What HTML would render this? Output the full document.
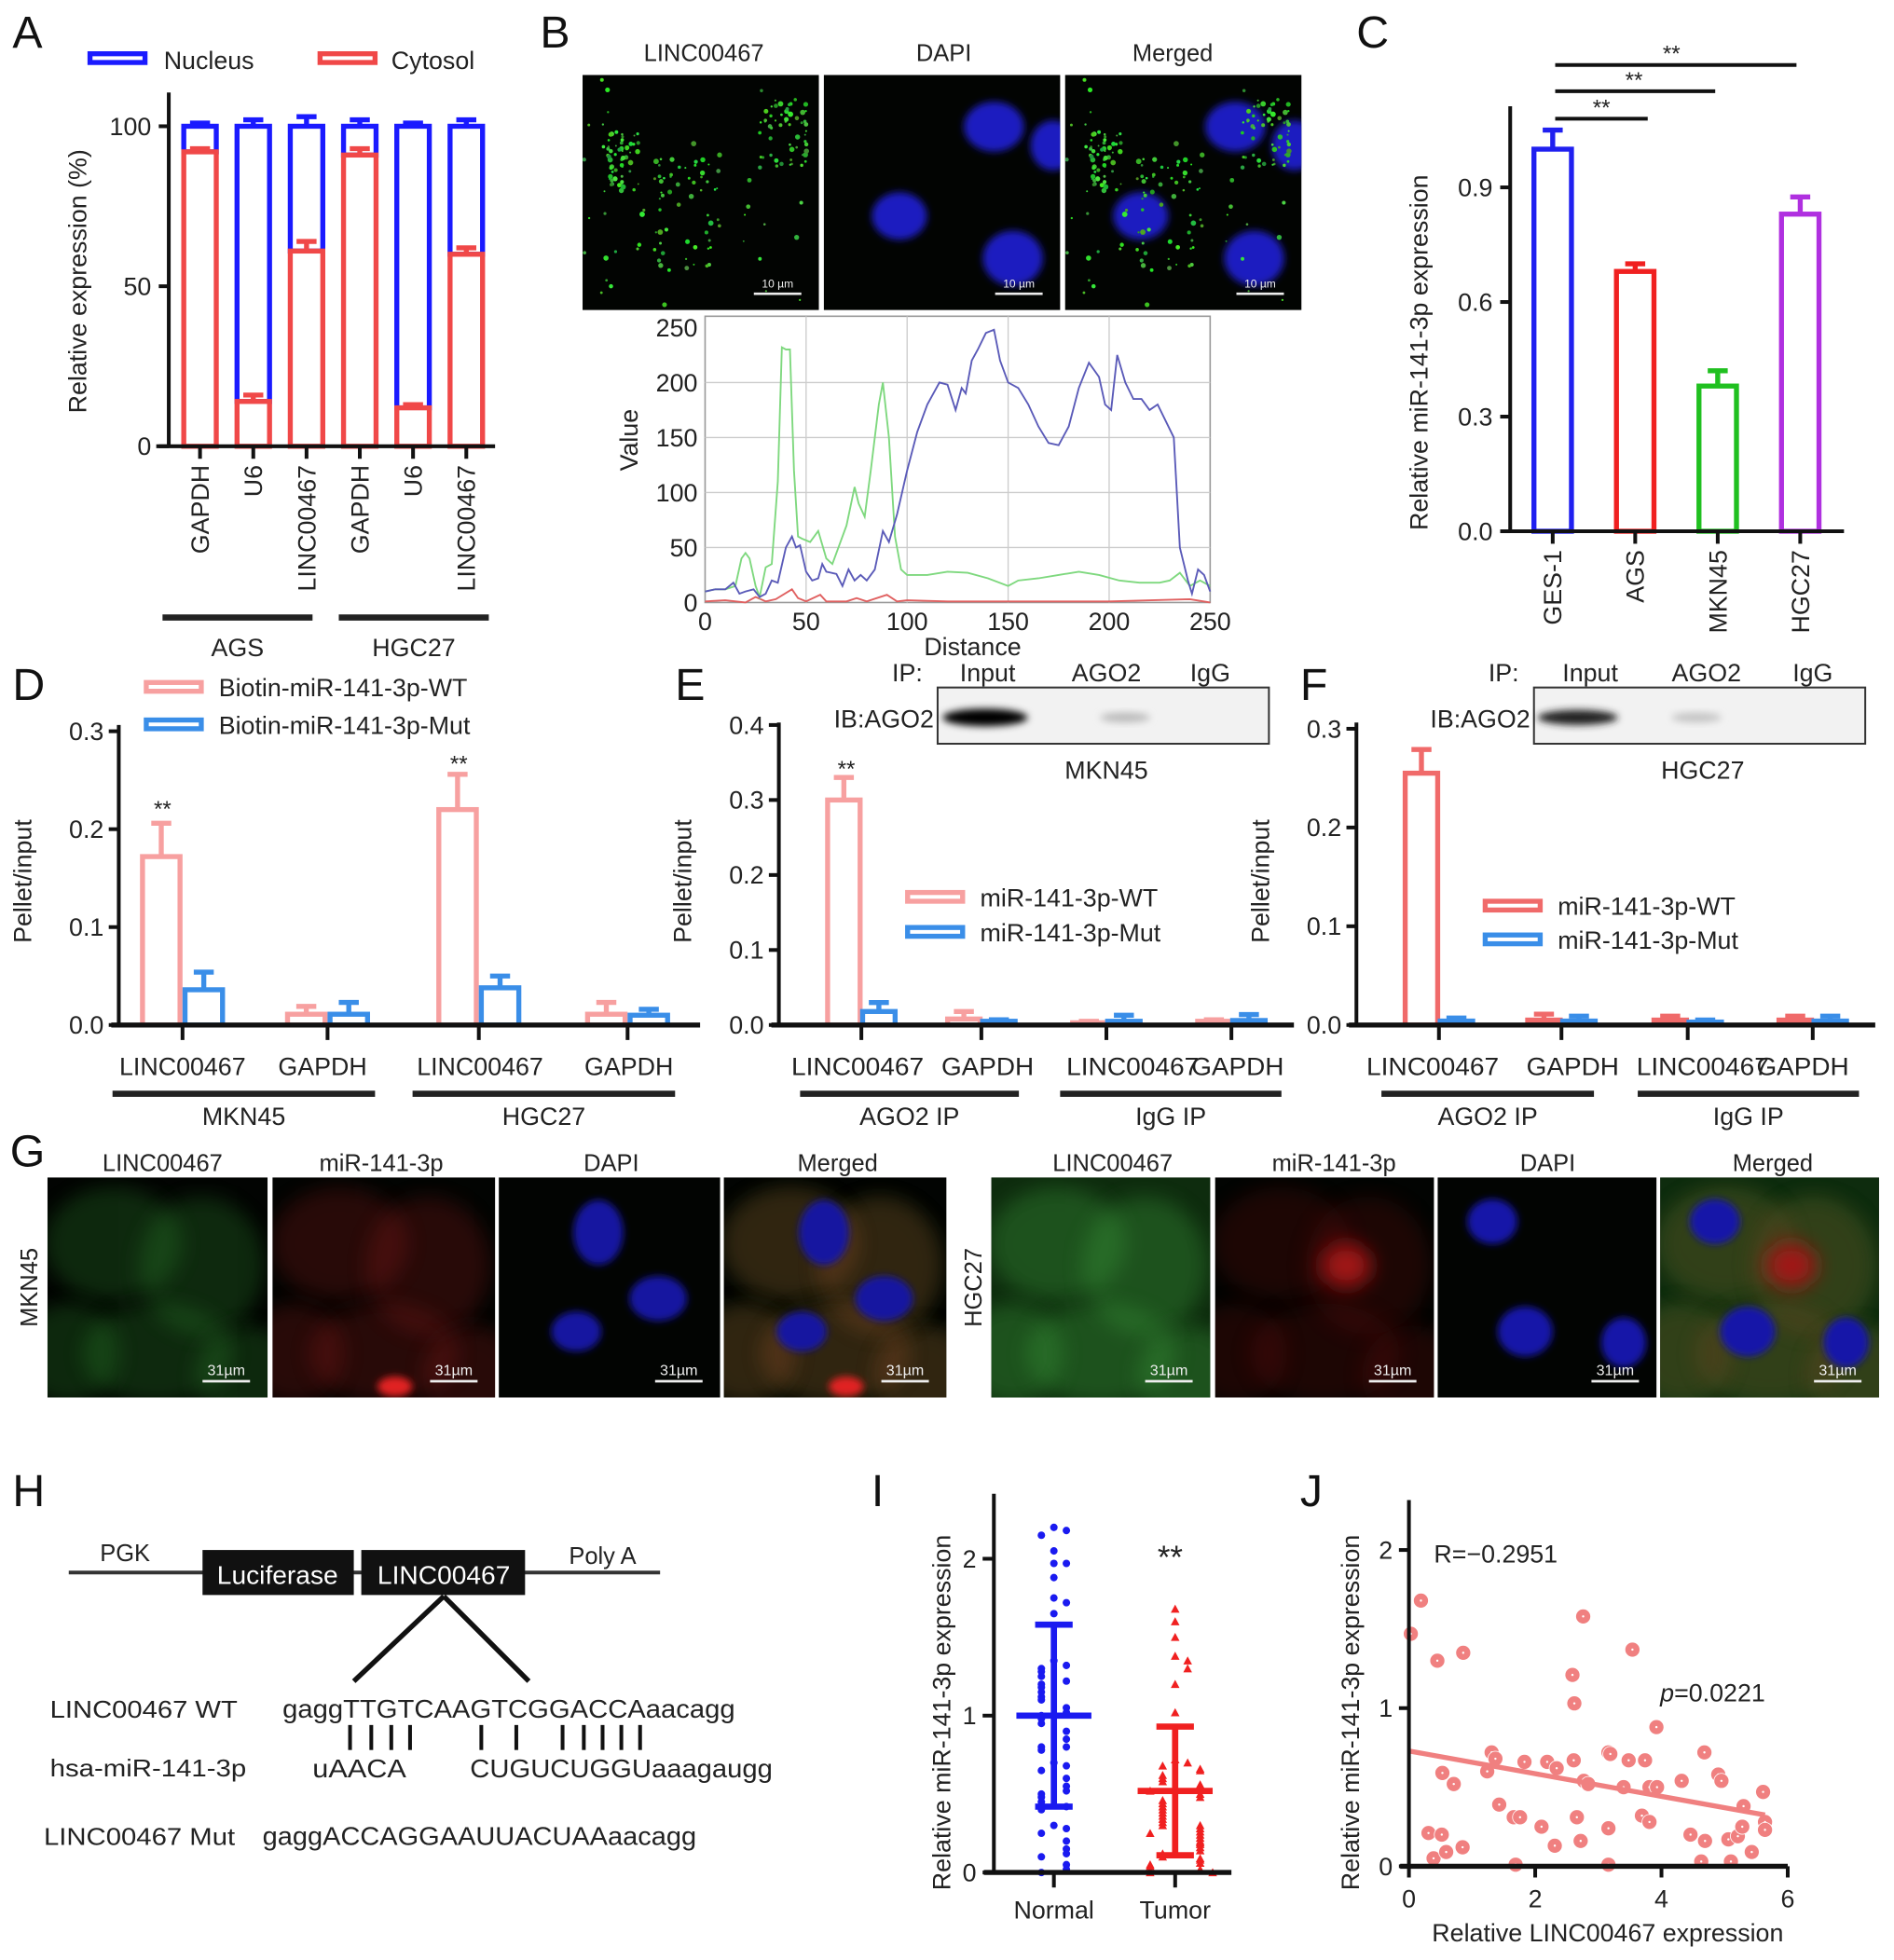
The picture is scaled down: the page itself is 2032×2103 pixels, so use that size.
<!DOCTYPE html>
<html><head><meta charset="utf-8"><style>
html,body{margin:0;padding:0;background:#fff;}
svg{display:block;font-family:"Liberation Sans",Arial,sans-serif;}
</style></head><body>
<svg id="fig" width="2032" height="2103" viewBox="0 0 1515 1568" preserveAspectRatio="none" xmlns="http://www.w3.org/2000/svg">
<defs>
<filter id="blur3" x="-50%" y="-50%" width="200%" height="200%"><feGaussianBlur stdDeviation="3"/></filter>
<filter id="blur8" x="-50%" y="-50%" width="200%" height="200%"><feGaussianBlur stdDeviation="8"/></filter>
<filter id="blot" x="-20%" y="-50%" width="140%" height="200%"><feGaussianBlur stdDeviation="3"/></filter>
</defs>
<g id="root"></g>
</svg>
<script>
// ---------- DATA ----------
const A_cats=['GAPDH','U6','LINC00467','GAPDH','U6','LINC00467'];
const A_cyto=[92,14,61,91,12,60];
const A_cytoErr=[1,2,3,2,1,2];
const A_nucErr=[1,2,3,2,1,2];
const A_groups=['AGS','HGC27'];
const A_ticks=[0,50,100];

const B_gx=[0,5,10,15,18,20,22,25,27,30,33,36,38,40,42,44,46,48,52,56,60,63,66,70,74,76,79,82,86,88,91,94,97,100,110,120,130,140,150,155,165,175,185,195,205,215,225,230,235,240,245,250];
const B_gy=[10,12,12,15,40,45,40,15,5,32,35,110,232,230,230,120,60,58,55,65,40,35,50,70,105,90,78,120,180,200,150,60,30,25,25,28,27,22,15,20,22,25,28,25,20,18,18,20,27,15,20,15];
const B_bx=[0,5,10,14,17,20,24,27,30,33,36,40,43,45,47,50,53,56,58,60,65,68,71,74,77,80,84,88,91,95,100,105,110,113,116,120,124,127,129,132,135,139,143,146,150,155,160,165,170,175,180,185,190,195,198,201,204,208,212,216,220,224,228,232,235,239,241,244,247,250];
const B_by=[10,12,12,18,8,10,12,5,8,20,18,50,60,50,52,28,20,22,35,28,26,15,30,20,25,20,30,65,55,80,120,155,180,190,200,198,175,195,190,220,230,245,248,220,200,195,180,160,145,143,160,195,218,205,180,175,225,200,185,185,175,180,165,150,50,20,8,30,25,10];
const B_rx=[0,10,20,25,30,35,43,46,50,57,60,70,75,80,90,95,100,120,150,200,240,250];
const B_ry=[1,2,0,5,1,3,12,4,1,7,1,1,4,1,7,1,2,1,1,1,3,0];
const B_ticks=[0,50,100,150,200,250];

const C_cats=['GES-1','AGS','MKN45','HGC27'];
const C_vals=[1.0,0.68,0.38,0.83];
const C_err=[0.05,0.02,0.04,0.045];
const C_ticks=[0.0,0.3,0.6,0.9];

const D_cats=['LINC00467','GAPDH','LINC00467','GAPDH'];
const D_wt=[0.172,0.011,0.22,0.011];
const D_wtErr=[0.034,0.008,0.036,0.012];
const D_mut=[0.036,0.011,0.038,0.01];
const D_mutErr=[0.018,0.012,0.012,0.006];
const D_ticks=[0.0,0.1,0.2,0.3];

const E_cats=['LINC00467','GAPDH','LINC00467','GAPDH'];
const E_wt=[0.30,0.008,0.003,0.005];
const E_wtErr=[0.03,0.01,0.002,0.002];
const E_mut=[0.018,0.005,0.005,0.006];
const E_mutErr=[0.012,0.002,0.008,0.008];
const E_ticks=[0.0,0.1,0.2,0.3,0.4];

const F_cats=['LINC00467','GAPDH','LINC00467','GAPDH'];
const F_wt=[0.255,0.005,0.005,0.005];
const F_wtErr=[0.024,0.006,0.004,0.004];
const F_mut=[0.004,0.004,0.003,0.004];
const F_mutErr=[0.003,0.005,0.002,0.005];
const F_ticks=[0.0,0.1,0.2,0.3];

const I_normal=[2.2,2.18,2.15,2.05,1.97,1.97,1.88,1.75,1.72,1.65,1.35,1.32,1.3,1.28,1.25,1.22,1.2,1.18,1.15,1.12,1.1,1.05,1.02,1.0,0.98,0.95,0.9,0.85,0.8,0.8,0.78,0.7,0.68,0.65,0.6,0.55,0.52,0.5,0.48,0.45,0.42,0.4,0.3,0.28,0.25,0.2,0.15,0.12,0.1,0.05,0.02,0.0];
const I_tumor=[1.68,1.6,1.5,1.38,1.35,1.3,1.2,1.02,0.72,0.7,0.68,0.66,0.65,0.62,0.6,0.58,0.56,0.55,0.53,0.52,0.5,0.48,0.46,0.44,0.42,0.4,0.38,0.36,0.34,0.32,0.3,0.3,0.28,0.26,0.25,0.24,0.22,0.2,0.19,0.18,0.16,0.14,0.12,0.1,0.09,0.08,0.06,0.05,0.04,0.02,0.01,0.0,0.0];
const I_mean=[1.0,0.52];
const I_sd=[0.58,0.41];
const I_ticks=[0,1,2];

const J_x=[0.03,0.19,0.45,0.86,0.53,0.71,0.31,0.52,0.39,0.59,0.85,1.24,1.31,1.37,1.43,1.66,1.76,1.69,1.83,2.10,2.19,2.34,2.31,2.61,2.59,2.62,2.76,2.66,2.72,2.77,2.84,3.16,3.19,3.16,3.16,3.40,3.48,3.54,3.74,3.69,3.81,3.81,3.93,3.92,4.32,4.46,4.68,4.69,4.63,4.90,4.95,5.06,5.10,5.21,5.28,5.30,5.43,5.61,5.64,5.64];
const J_y=[1.47,1.68,1.30,1.35,0.59,0.52,0.21,0.20,0.05,0.09,0.12,0.60,0.72,0.68,0.39,0.31,0.31,0.01,0.66,0.25,0.66,0.62,0.13,0.67,1.21,1.03,1.58,0.31,0.16,0.54,0.52,0.72,0.71,0.24,0.01,0.50,0.67,1.37,0.67,0.32,0.28,0.50,0.50,0.88,0.54,0.20,0.72,0.16,0.03,0.58,0.54,0.17,0.03,0.19,0.25,0.38,0.09,0.47,0.28,0.23];
const J_xticks=[0,2,4,6];
const J_yticks=[0,1,2];

// ---------- HELPERS ----------
const NS='http://www.w3.org/2000/svg';
const root=document.getElementById('root');
function mk(tag,attrs,parent){const e=document.createElementNS(NS,tag);for(const k in attrs)e.setAttribute(k,attrs[k]);(parent||root).appendChild(e);return e;}
function txt(x,y,s,size,opts,parent){opts=opts||{};const t=mk('text',Object.assign({x:x,y:y,'font-size':size,fill:opts.fill||'#222','text-anchor':opts.anchor||'start'},opts.extra||{}),parent);t.textContent=s;return t;}
function line(x1,y1,x2,y2,col,w,parent){return mk('line',{x1:x1,y1:y1,x2:x2,y2:y2,stroke:col,'stroke-width':w},parent);}

[['A',10,38],['B',432,38],['C',1085,38],['D',10,560],['E',540,560],['F',1040,560],['G',8,933],['H',10,1205],['I',697,1205],['J',1040,1205]].forEach(p=>{
  const t=txt(p[1],p[2],p[0],36,{fill:'#111'});
  
  
});

// ---------- PANEL A ----------
(function(){
  const g=mk('g',{});
  
  
  const y=v=>357-v/100*256;
  const cx=i=>160+i*42.6;
  const bw=26;
  let r=mk('rect',{x:72,y:43,width:44,height:7,fill:'none',stroke:'#1a1aff','stroke-width':4},g);
  
  
  let t=txt(131,55,'Nucleus',20,{},g);
  
  
  r=mk('rect',{x:256,y:43,width:44,height:7,fill:'none',stroke:'#f04848','stroke-width':4},g);
  
  
  t=txt(313,55,'Cytosol',20,{},g);
  
  
  A_cats.forEach((c,i)=>{
    const x=cx(i);
    const nb=mk('rect',{x:x-bw/2,y:y(100),width:bw,height:y(A_cyto[i])-y(100),fill:'#fff',stroke:'#1a1aff','stroke-width':4},g);
    
    
    line(x,y(100),x,y(100+A_nucErr[i]),'#1a1aff',4,g);
    line(x-8,y(100+A_nucErr[i]),x+8,y(100+A_nucErr[i]),'#1a1aff',4,g);
    const cb=mk('rect',{x:x-bw/2,y:y(A_cyto[i]),width:bw,height:y(0)-y(A_cyto[i]),fill:'#fff',stroke:'#f04848','stroke-width':4},g);
    
    
    line(x,y(A_cyto[i]),x,y(A_cyto[i]+A_cytoErr[i]),'#f04848',4,g);
    line(x-8,y(A_cyto[i]+A_cytoErr[i]),x+8,y(A_cyto[i]+A_cytoErr[i]),'#f04848',4,g);
    line(x,357,x,367,'#111',3,g);
    const lt=txt(0,0,c,20,{anchor:'end',extra:{transform:`translate(${x+7},372) rotate(-90)`}},g);
    
    
  });
  line(135,74,135,358,'#111',3,g);
  line(125,357,396,357,'#111',3,g);
  A_ticks.forEach(v=>{line(127,y(v),135,y(v),'#111',3,g);const tt=txt(121,y(v)+7,String(v),20,{anchor:'end'},g);});
  const yl=txt(0,0,'Relative expression (%)',20,{anchor:'middle',extra:{transform:'translate(69,225) rotate(-90)'}},g);
  
  
  A_groups.forEach((s,k)=>{
    const x0=130+k*141;
    line(x0,494,x0+120,494,'#222',5,g);
    const gt=txt(x0+60,525,s,20,{anchor:'middle'},g);
    
    
  });
})();

// ---------- MICROSCOPY helpers ----------
let seed=7;function rnd(){seed=(seed*9301+49297)%233280;return seed/233280;}
function micro(x,y,w,h,name,kind,scale){
  const g=mk('g',{});
  
  
  mk('rect',{x:x,y:y,width:w,height:h,fill:'#020402'},g);
  const cp=mk('clipPath',{id:name+'-clip'},g);mk('rect',{x:x,y:y,width:w,height:h},cp);
  const inner=mk('g',{'clip-path':`url(#${name}-clip)`},g);
  kind(inner,x,y,w,h);
  line(x+w-52,y+h-13,x+w-14,y+h-13,'#eee',2,g);
  txt(x+w-33,y+h-18,scale,scale.length>4?9:12,{fill:'#eee',anchor:'middle'},g);
  return g;
}
const nucB=[[0.72,0.22,24,20],[0.32,0.6,22,19],[0.8,0.78,24,22],[0.97,0.3,18,20]];
function bGreen(g,x,y,w,h){seed=7;for(let i=0;i<200;i++){let cx,cy;const k=i%4;if(k==0){cx=0.1+rnd()*0.14;cy=0.25+rnd()*0.25;}else if(k==1){cx=0.3+rnd()*0.3;cy=0.35+rnd()*0.5;}else if(k==2){cx=0.75+rnd()*0.2;cy=0.1+rnd()*0.3;}else{cx=rnd();cy=rnd();}mk('circle',{cx:x+cx*w,cy:y+cy*h,r:0.7+rnd()*1.5,fill:`rgb(${30+rnd()*50|0},${140+rnd()*100|0},${30+rnd()*40|0})`},g);}}
function bBlue(g,x,y,w,h){nucB.forEach(n=>mk('ellipse',{cx:x+n[0]*w,cy:y+n[1]*h,rx:n[2],ry:n[3],fill:'#1c1cc0',filter:'url(#blur3)'},g));}
function bMerged(g,x,y,w,h){bBlue(g,x,y,w,h);bGreen(g,x,y,w,h);}
micro(466,60,189,188,'image-b-linc00467',bGreen,'10 µm');
micro(659,60,189,188,'image-b-dapi',bBlue,'10 µm');
micro(852,60,189,188,'image-b-merged',bMerged,'10 µm');
[['LINC00467',563],['DAPI',755],['Merged',938]].forEach(p=>{const t=txt(p[1],49,p[0],19,{anchor:'middle'});});

// ---------- PANEL B line chart ----------
(function(){
  const g=mk('g',{});
  
  
  const X=v=>564+v/250*404, Y=v=>482-v/250*220;
  mk('rect',{x:564,y:253,width:404,height:229,fill:'#fff',stroke:'#999','stroke-width':1.2},g);
  B_ticks.forEach(v=>{
    if(v>0&&v<250){line(X(v),253,X(v),482,'#ccc',1,g);line(564,Y(v),968,Y(v),'#ccc',1,g);}
    const tx=txt(X(v),504,String(v),20,{anchor:'middle'},g);
    const ty=txt(558,Y(v)+7,String(v),20,{anchor:'end'},g);
  });
  function series(xs,ys,col,name){const p=mk('polyline',{points:xs.map((v,i)=>X(v)+','+Y(ys[i])).join(' '),fill:'none',stroke:col,'stroke-width':1.4},g);}
  series(B_rx,B_ry,'#e06060','line-red');
  series(B_gx,B_gy,'#7ed87e','line-green');
  series(B_bx,B_by,'#5a5ab8','line-blue');
  const xt=txt(778,524,'Distance',20,{anchor:'middle'},g);
  const yt=txt(0,0,'Value',20,{anchor:'middle',extra:{transform:'translate(510,352) rotate(-90)'}},g);
})();

// ---------- PANEL C ----------
(function(){
  const g=mk('g',{});
  
  
  const Y=v=>425-v/0.3*91.7, cx=i=>1242+i*66, bw=30;
  const cols=['#2020f0','#f02020','#20c020','#b030e0'];
  C_cats.forEach((c,i)=>{
    const x=cx(i);
    const b=mk('rect',{x:x-bw/2,y:Y(C_vals[i]),width:bw,height:425-Y(C_vals[i]),fill:'#fff',stroke:cols[i],'stroke-width':4},g);
    
    
    const te=Y(C_vals[i]+C_err[i]);
    line(x,Y(C_vals[i]),x,te,cols[i],4,g);line(x-8,te,x+8,te,cols[i],4,g);
    line(x,425,x,435,'#111',3,g);
    const lt=txt(0,0,c,20,{anchor:'end',extra:{transform:`translate(${x+7},440) rotate(-90)`}},g);
  });
  line(1208,85,1208,426,'#111',3,g);line(1200,425,1475,425,'#111',3,g);
  C_ticks.forEach(v=>{line(1200,Y(v),1208,Y(v),'#111',3,g);const t=txt(1194,Y(v)+7,v.toFixed(1),20,{anchor:'end'},g);});
  const yt=txt(0,0,'Relative miR-141-3p expression',20,{anchor:'middle',extra:{transform:'translate(1142,282) rotate(-90)'}},g);
  [[1318,95,1281],[1372,73,1307],[1437,52,1337]].forEach(s=>{line(1244,s[1],s[0],s[1],'#111',3,g);const t=txt(s[2],s[1]-3,'**',18,{anchor:'middle'},g);});
})();

// ---------- grouped bar (D,E,F) ----------
function grouped(cfg){
  const g=mk('g',{});
  
  
  const Y=v=>820-v/cfg.max*cfg.h;
  cfg.cats.forEach((c,i)=>{
    const xc=cfg.cx[i];
    [[cfg.wt,cfg.wtErr,cfg.wtCol,-1,'wt'],[cfg.mut,cfg.mutErr,cfg.mutCol,1,'mut']].forEach(s=>{
      const x=xc+s[3]*cfg.off, v=s[0][i], e=s[1][i];
      const b=mk('rect',{x:x-cfg.bw/2,y:Y(v),width:cfg.bw,height:Math.max(0,820-Y(v)),fill:'#fff',stroke:s[2],'stroke-width':4},g);
      
      
      line(x,Y(v),x,Y(v+e),s[2],4,g);line(x-8,Y(v+e),x+8,Y(v+e),s[2],4,g);
    });
    line(xc,820,xc,832,'#111',3,g);
    const lt=txt(cfg.lx[i],860,c,20,{anchor:'middle',extra:cfg.narrow?{textLength:cfg.narrow[i],lengthAdjust:'spacingAndGlyphs'}:{}},g);
  });
  line(cfg.ax,cfg.ax>600?578:580,cfg.ax,821,'#111',3,g);line(cfg.ax-6,820,cfg.xe,820,'#111',4,g);
  cfg.ticks.forEach(v=>{line(cfg.ax-8,Y(v),cfg.ax,Y(v),'#111',3,g);const t=txt(cfg.ax-12,Y(v)+7,v.toFixed(1),20,{anchor:'end'},g);});
  const yt=txt(0,0,'Pellet/input',20,{anchor:'middle',extra:{transform:`translate(${cfg.ax-70},705) rotate(-90)`}},g);
  cfg.groups.forEach(gr=>{line(gr[0],875,gr[1],875,'#222',5,g);const t=txt((gr[0]+gr[1])/2,900,gr[2],20,{anchor:'middle'},g);});
  cfg.legend.forEach((l,k)=>{
    const r=mk('rect',{x:l[0],y:l[1]-4,width:44,height:7,fill:'none',stroke:l[3],'stroke-width':4},g);
    
    
    const t=txt(l[0]+58,l[1]+7,l[2],20,{},g);
    
    
  });
  (cfg.stars||[]).forEach(s=>{const t=txt(s[0],s[1],'**',18,{anchor:'middle'},g);});
  return g;
}
grouped({name:'panel-d-chart',cats:D_cats,wt:D_wt,wtErr:D_wtErr,mut:D_mut,mutErr:D_mutErr,ticks:D_ticks,max:0.3,h:235,ax:95,xe:560,
  cx:[146,262,383,502],off:17,bw:30,wtCol:'#f7a0a0',mutCol:'#3a8ee8',lx:[146,258,384,503],
  groups:[[90,300,'MKN45'],[330,540,'HGC27']],
  legend:[[117,550,'Biotin-miR-141-3p-WT','#f7a0a0'],[117,580,'Biotin-miR-141-3p-Mut','#3a8ee8']],stars:[[130,653],[367,617]]});
grouped({name:'panel-e-chart',cats:E_cats,wt:E_wt,wtErr:E_wtErr,mut:E_mut,mutErr:E_mutErr,ticks:E_ticks,max:0.4,h:240,ax:623,xe:1035,
  cx:[689,785,885,985],off:14,bw:26,wtCol:'#f7a0a0',mutCol:'#3a8ee8',lx:[686,790,906,990],narrow:[106,74,106,74],
  groups:[[640,815,'AGO2 IP'],[848,1025,'IgG IP']],
  legend:[[726,718,'miR-141-3p-WT','#f7a0a0'],[726,746,'miR-141-3p-Mut','#3a8ee8']],stars:[[677,621]]});
grouped({name:'panel-f-chart',cats:F_cats,wt:F_wt,wtErr:F_wtErr,mut:F_mut,mutErr:F_mutErr,ticks:F_ticks,max:0.3,h:237,ax:1085,xe:1500,
  cx:[1151,1249,1350,1450],off:14,bw:26,wtCol:'#f06a6a',mutCol:'#3a8ee8',lx:[1146,1258,1362,1442],narrow:[106,74,106,74],
  groups:[[1105,1275,'AGO2 IP'],[1310,1487,'IgG IP']],
  legend:[[1188,725,'miR-141-3p-WT','#f06a6a'],[1188,752,'miR-141-3p-Mut','#3a8ee8']]});

// blots
function blot(x,name,bands,cell,heads){
  const g=mk('g',{});
  
  
  mk('rect',{x:x,y:550,width:265,height:45,fill:'#f2f2f2',stroke:'#333','stroke-width':1.5},g);
  bands.forEach(b=>mk('ellipse',{cx:x+b[0],cy:574,rx:b[1],ry:b[2],fill:b[3],filter:'url(#blot)'},g));
  txt(x-3,582,'IB:AGO2',20,{anchor:'end'},g);
  txt(x-12,545,'IP:',20,{anchor:'end'},g);
  heads.forEach(h=>txt(x+h[0],545,h[1],20,{anchor:'middle'},g));
  txt(x+135,623,cell,20,{anchor:'middle'},g);
}
blot(750,'western-blot-mkn45',[[38,34,7,'#000'],[150,20,4,'#bbb']],'MKN45',[[40,'Input'],[135,'AGO2'],[218,'IgG']]);
blot(1227,'western-blot-hgc27',[[35,32,6,'#222'],[130,20,4,'#c4c4c4']],'HGC27',[[45,'Input'],[138,'AGO2'],[223,'IgG']]);

// ---------- PANEL G ----------
function cells(g,x,y,w,h,col,op){[[0.3,0.3,55,45],[0.7,0.4,50,55],[0.5,0.8,60,40],[0.1,0.8,40,40],[0.9,0.9,40,40]].forEach(c=>mk('ellipse',{cx:x+c[0]*w,cy:y+c[1]*h,rx:c[2],ry:c[3],fill:col,opacity:op,filter:'url(#blur8)'},g));}
const nucG=[[0.45,0.25,20,26],[0.72,0.55,23,18],[0.35,0.7,20,16]];
function gGreenL(g,x,y,w,h){cells(g,x,y,w,h,'#2f8a2f',0.28);}
function gRedL(g,x,y,w,h){cells(g,x,y,w,h,'#9a1a1a',0.25);mk('ellipse',{cx:x+0.55*w,cy:y+0.95*h,rx:14,ry:8,fill:'#e02020',filter:'url(#blur3)'},g);}
function gBlueL(g,x,y,w,h){nucG.forEach(n=>mk('ellipse',{cx:x+n[0]*w,cy:y+n[1]*h,rx:n[2],ry:n[3],fill:'#1414a0',filter:'url(#blur3)'},g));}
function gMergeL(g,x,y,w,h){gGreenL(g,x,y,w,h);gRedL(g,x,y,w,h);gBlueL(g,x,y,w,h);}
function gGreenR(g,x,y,w,h){mk('rect',{x:x,y:y,width:w,height:h,fill:'#0e2c0e'},g);cells(g,x,y,w,h,'#3a9a3a',0.35);}
function gRedR(g,x,y,w,h){cells(g,x,y,w,h,'#701010',0.25);mk('ellipse',{cx:x+0.6*w,cy:y+0.4*h,rx:20,ry:18,fill:'#a01414',filter:'url(#blur8)'},g);}
function gBlueR(g,x,y,w,h){[[0.25,0.2,20,18],[0.4,0.7,22,20],[0.85,0.75,18,20]].forEach(n=>mk('ellipse',{cx:x+n[0]*w,cy:y+n[1]*h,rx:n[2],ry:n[3],fill:'#1414a8',filter:'url(#blur3)'},g));}
function gMergeR(g,x,y,w,h){gGreenR(g,x,y,w,h);gRedR(g,x,y,w,h);gBlueR(g,x,y,w,h);}
micro(38,942,176,176,'image-g-mkn45-linc00467',gGreenL,'31µm');
micro(218,942,178,176,'image-g-mkn45-mir141',gRedL,'31µm');
micro(399,942,177,176,'image-g-mkn45-dapi',gBlueL,'31µm');
micro(579,942,178,176,'image-g-mkn45-merged',gMergeL,'31µm');
micro(793,942,175,176,'image-g-hgc27-linc00467',gGreenR,'31µm');
micro(972,942,175,176,'image-g-hgc27-mir141',gRedR,'31µm');
micro(1150,942,175,176,'image-g-hgc27-dapi',gBlueR,'31µm');
micro(1328,942,175,176,'image-g-hgc27-merged',gMergeR,'31µm');
[['LINC00467',130],['miR-141-3p',305],['DAPI',489],['Merged',670],['LINC00467',890],['miR-141-3p',1067],['DAPI',1238],['Merged',1418]].forEach(p=>{const t=txt(p[1],937,p[0],19,{anchor:'middle'});});
[['MKN45',30],['HGC27',785]].forEach(p=>{const t=txt(0,0,p[0],19,{anchor:'middle',extra:{transform:`translate(${p[1]},1030) rotate(-90)`}});});

// ---------- PANEL H ----------
(function(){
  const g=mk('g',{});
  
  
  const la={lengthAdjust:'spacingAndGlyphs'};
  line(55,1258,528,1258,'#333',3,g);
  mk('rect',{x:162,y:1240,width:121,height:36,fill:'#111'},g);
  mk('rect',{x:289,y:1240,width:131,height:36,fill:'#111'},g);
  txt(222,1267,'Luciferase',21,{fill:'#fff',anchor:'middle'},g);
  txt(355,1267,'LINC00467',21,{fill:'#fff',anchor:'middle'},g);
  txt(100,1249,'PGK',19,{anchor:'middle'},g);
  txt(482,1251,'Poly A',19,{anchor:'middle'},g);
  line(355,1277,283,1345,'#111',4,g);line(355,1277,423,1345,'#111',4,g);
  txt(40,1374,'LINC00467 WT',19,{extra:Object.assign({textLength:150},la)},g);
  txt(226,1374,'gaggTTGTCAAGTCGGACCAaacagg',21,{extra:Object.assign({textLength:362},la)},g);
  [280,297,313,328,385,413,450,467,482,497,512].forEach(x=>line(x,1380,x,1400,'#111',3,g));
  txt(40,1421,'hsa-miR-141-3p',19,{extra:Object.assign({textLength:157},la)},g);
  txt(250,1422,'uAACA',21,{extra:Object.assign({textLength:75},la)},g);
  txt(376,1422,'CUGUCUGGUaaagaugg',21,{extra:Object.assign({textLength:242},la)},g);
  txt(35,1476,'LINC00467 Mut',19,{extra:Object.assign({textLength:153},la)},g);
  txt(210,1476,'gaggACCAGGAAUUACUAAaacagg',21,{extra:Object.assign({textLength:347},la)},g);
})();

// ---------- PANEL I ----------
(function(){
  const g=mk('g',{});
  
  
  const Y=v=>1498-v*125.5, cx=[843,940];
  function jit(vals,i){let k=0;for(let j=0;j<i;j++)if(Math.abs(vals[j]-vals[i])<0.06)k++;return (k%2?1:-1)*Math.ceil(k/2)*10;}
  I_normal.forEach((v,i)=>{const c=mk('circle',{cx:cx[0]+jit(I_normal,i),cy:Y(v),r:3,fill:'#1a1af0'},g);});
  I_tumor.forEach((v,i)=>{const x=cx[1]+jit(I_tumor,i),yy=Y(v);const p=mk('path',{d:`M${x},${yy-3.5}L${x+3.5},${yy+3}L${x-3.5},${yy+3}Z`,fill:'#f02020'},g);});
  const cols=['#1a1af0','#f02020'];
  I_mean.forEach((m,k)=>{
    const c=cx[k],lo=Math.max(0,m-I_sd[k]),hi=m+I_sd[k];
    line(c,Y(lo),c,Y(hi),cols[k],5,g);
    const ml=line(c-30,Y(m),c+30,Y(m),cols[k],5,g);
    line(c-15,Y(lo),c+15,Y(lo),cols[k],5,g);line(c-15,Y(hi),c+15,Y(hi),cols[k],5,g);
    line(c,1498,c,1510,'#111',3,g);
  });
  line(795,1195,795,1499,'#111',3,g);line(787,1498,985,1498,'#111',4,g);
  I_ticks.forEach(v=>{line(786,Y(v),795,Y(v),'#111',3,g);const t=txt(781,Y(v)+7,String(v),20,{anchor:'end'},g);});
  [['Normal',843],['Tumor',940]].forEach(p=>{const t=txt(p[1],1535,p[0],20,{anchor:'middle'},g);});
  const yt=txt(0,0,'Relative miR-141-3p expression',20,{anchor:'middle',extra:{transform:'translate(760,1370) rotate(-90)'}},g);
  const st=txt(936,1255,'**',26,{anchor:'middle'},g);
})();

// ---------- PANEL J ----------
(function(){
  const g=mk('g',{});
  
  
  const X=v=>1127+v*50.5, Y=v=>1493-v*126.5;
  J_x.forEach((v,i)=>{
    const c=mk('circle',{cx:X(v),cy:Y(J_y[i]),r:6,fill:'#f08080',stroke:'#fff','stroke-width':0.6},g);
    
    
    mk('circle',{cx:X(v),cy:Y(J_y[i]),r:0.9,fill:'#fff'},g);
  });
  const n=J_x.length,mx=J_x.reduce((a,b)=>a+b)/n,my=J_y.reduce((a,b)=>a+b)/n;
  let sxy=0,sxx=0;J_x.forEach((v,i)=>{sxy+=(v-mx)*(J_y[i]-my);sxx+=(v-mx)*(v-mx);});
  const sl=sxy/sxx,ic=my-sl*mx,xm=Math.max(...J_x);
  const rl=line(X(0),Y(ic),X(xm),Y(ic+sl*xm),'#f08080',4,g);
  
  
  line(1127,1200,1127,1494,'#111',3,g);line(1120,1493,1430,1493,'#111',4,g);
  J_yticks.forEach(v=>{line(1119,Y(v),1127,Y(v),'#111',3,g);const t=txt(1114,Y(v)+7,String(v),20,{anchor:'end'},g);});
  J_xticks.forEach(v=>{line(X(v),1493,X(v),1502,'#111',3,g);const t=txt(X(v),1526,String(v),20,{anchor:'middle'},g);});
  const xt=txt(1286,1553,'Relative LINC00467 expression',20,{anchor:'middle'},g);
  const yt=txt(0,0,'Relative miR-141-3p expression',20,{anchor:'middle',extra:{transform:'translate(1087,1370) rotate(-90)'}},g);
  const r=txt(1147,1250,'R=−0.2951',20,{},g);
  const p=mk('text',{x:1328,y:1361,'font-size':20,fill:'#222'},g);p.innerHTML='<tspan font-style="italic">p</tspan>=0.0221';
  
  
})();
</script>
</body></html>
